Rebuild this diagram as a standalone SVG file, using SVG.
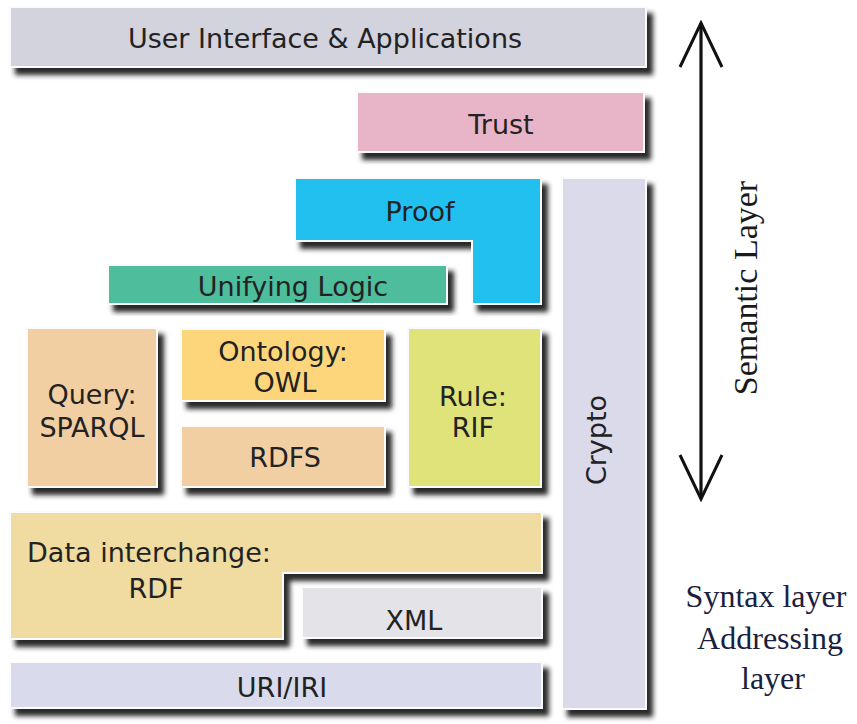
<svg xmlns="http://www.w3.org/2000/svg" width="857" height="724" viewBox="0 0 857 724">
<defs>
<filter id="sh" x="-10%" y="-10%" width="130%" height="140%">
<feDropShadow dx="6" dy="7" stdDeviation="2.5" flood-color="#1a1a1a" flood-opacity="0.95"/>
</filter>
<marker id="ah" viewBox="0 0 48 46" refX="45" refY="23" markerWidth="48" markerHeight="46" markerUnits="userSpaceOnUse" orient="auto-start-reverse">
<path d="M1,2 L45,23 L1,44" fill="none" stroke="#111" stroke-width="3"/>
</marker>
</defs>
<style>
.box{stroke:#fbfbfb;stroke-width:2;filter:url(#sh)}
.t{font-family:"DejaVu Sans",Verdana,sans-serif;font-size:27px;fill:#222;text-anchor:middle}
.s{font-family:"Liberation Serif","Times New Roman",serif;text-anchor:middle}
</style>
<rect width="857" height="724" fill="#fff"/>
<g id="ui"><rect class="box" x="10" y="7" width="636" height="60" fill="#d2d3dc"/><text class="t" x="325" y="48">User Interface &amp; Applications</text></g>
<g id="trust"><rect class="box" x="357" y="92" width="287" height="60" fill="#e8b4c8"/><text class="t" x="501" y="134">Trust</text></g>
<g id="crypto"><rect class="box" x="562" y="178" width="84" height="531" fill="#dadaeb"/><text class="t" transform="translate(606,440) rotate(-90)">Crypto</text></g>
<g id="proof"><path class="box" d="M295,178 H541 V304 H472 V241 H295 Z" fill="#22c0ee"/><text class="t" x="420" y="221">Proof</text></g>
<g id="logic"><rect class="box" x="108" y="265" width="339" height="39" fill="#4dbd9b"/><text class="t" x="293" y="296">Unifying Logic</text></g>
<g id="query"><rect class="box" x="27" y="328" width="130" height="159" fill="#f1cfa3"/><text class="t" x="92" y="404">Query:</text><text class="t" x="92" y="437">SPARQL</text></g>
<g id="owl"><rect class="box" x="181" y="329" width="204" height="72" fill="#fdd67c"/><text class="t" x="283" y="361">Ontology:</text><text class="t" x="285" y="392">OWL</text></g>
<g id="rdfs"><rect class="box" x="181" y="426" width="204" height="61" fill="#f1cfa3"/><text class="t" x="285" y="467">RDFS</text></g>
<g id="rule"><rect class="box" x="408" y="328" width="133" height="159" fill="#e0e27a"/><text class="t" x="473" y="406">Rule:</text><text class="t" x="473" y="437">RIF</text></g>
<g id="rdf"><path class="box" d="M10,512 H542 V573 H283 V639 H10 Z" fill="#f0dba0"/><text class="t" x="149" y="562">Data interchange:</text><text class="t" x="156" y="598">RDF</text></g>
<g id="xml"><rect class="box" x="302" y="587" width="240" height="51" fill="#e4e4e8"/><text class="t" x="414" y="630">XML</text></g>
<g id="uri"><rect class="box" x="10" y="662" width="532" height="46" fill="#d9dbec"/><text class="t" x="282" y="697">URI/IRI</text></g>
<g id="connectors"><line x1="701" y1="499" x2="701" y2="23" stroke="#111" stroke-width="3.2" marker-start="url(#ah)" marker-end="url(#ah)"/></g>
<g id="labels">
<text class="s" font-size="34" fill="#1a1a1a" transform="translate(757,288) rotate(-90)">Semantic Layer</text>
<text class="s" font-size="32" fill="#1a2040" x="766" y="607">Syntax layer</text>
<text class="s" font-size="32" fill="#1a2040" x="770" y="649">Addressing</text>
<text class="s" font-size="32" fill="#1a2040" x="773" y="689">layer</text>
</g>
</svg>
